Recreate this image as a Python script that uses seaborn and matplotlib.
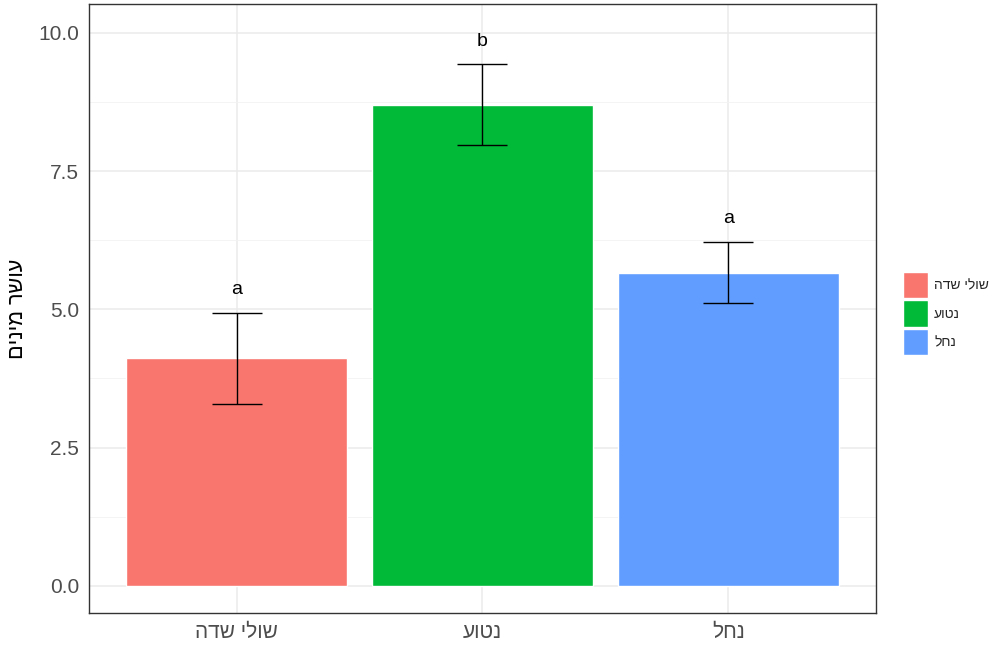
import pandas as pd
import seaborn as sns
import matplotlib.pyplot as plt
from matplotlib.patches import Patch
from matplotlib.ticker import MultipleLocator

# data
categories = ['שולי שדה', 'נטוע', 'נחל']
means = [4.12, 8.70, 5.66]
err_low = [3.28, 7.97, 5.11]
err_high = [4.93, 9.43, 6.22]
letters = ['a', 'b', 'a']
colors = ['#F8766D', '#00BA38', '#619CFF']
y_title = 'עושר מינים'


def rtl(s):
    # matplotlib has no bidi support, so flip Hebrew text for display
    return s[::-1]


df = pd.DataFrame({'cat': [rtl(c) for c in categories], 'val': means})

sns.set_style('whitegrid')
plt.rcParams['font.family'] = ['Liberation Sans', 'DejaVu Sans']

fig = plt.figure(figsize=(9.9, 6.46), dpi=100)
ax = fig.add_axes([0.0899, 0.0511, 0.7949, 0.9427])

sns.barplot(data=df, x='cat', y='val', hue='cat', palette=colors, saturation=1,
            width=0.9, dodge=False, legend=False, ax=ax, zorder=2)

# error bars and significance letters
for i, (m, lo, hi, let) in enumerate(zip(means, err_low, err_high, letters)):
    ax.errorbar(i, m, yerr=[[m - lo], [hi - m]], color='black', lw=1,
                capsize=18, capthick=1, zorder=3)
    ax.text(i, hi + 0.42, let, ha='center', va='center', fontsize=14, color='black')

ax.set_xlim(-0.6, 2.6)
ax.set_ylim(-0.49, 10.52)
ax.yaxis.set_major_locator(MultipleLocator(2.5))
ax.yaxis.set_minor_locator(MultipleLocator(1.25))
ax.yaxis.set_major_formatter(lambda v, p: f'{v:.1f}')

ax.grid(which='major', color='#EBEBEB', lw=1.1, zorder=0)
ax.grid(which='minor', axis='y', color='#F2F2F2', lw=0.6, zorder=0)
ax.set_axisbelow(True)

for sp in ax.spines.values():
    sp.set_color('#333333')
    sp.set_linewidth(1)

ax.tick_params(axis='both', which='major', length=4, width=1, color='#333333',
               labelcolor='#4D4D4D', labelsize=15, pad=3)
ax.tick_params(axis='both', which='minor', length=0)
ax.set_xlabel('')
ax.set_ylabel(rtl(y_title), fontsize=15.5, color='black')
ax.yaxis.set_label_coords(-0.077, 0.5)

handles = [Patch(facecolor=c, edgecolor='white', lw=1) for c in colors]
fig.legend(handles, [rtl(c) for c in categories], loc='center left',
           bbox_to_anchor=(0.907, 0.515), frameon=False, fontsize=10,
           handlelength=1.8, handleheight=2.55, labelspacing=0.15,
           handletextpad=0.4, borderaxespad=0)

fig.savefig('out.png', dpi=100)
